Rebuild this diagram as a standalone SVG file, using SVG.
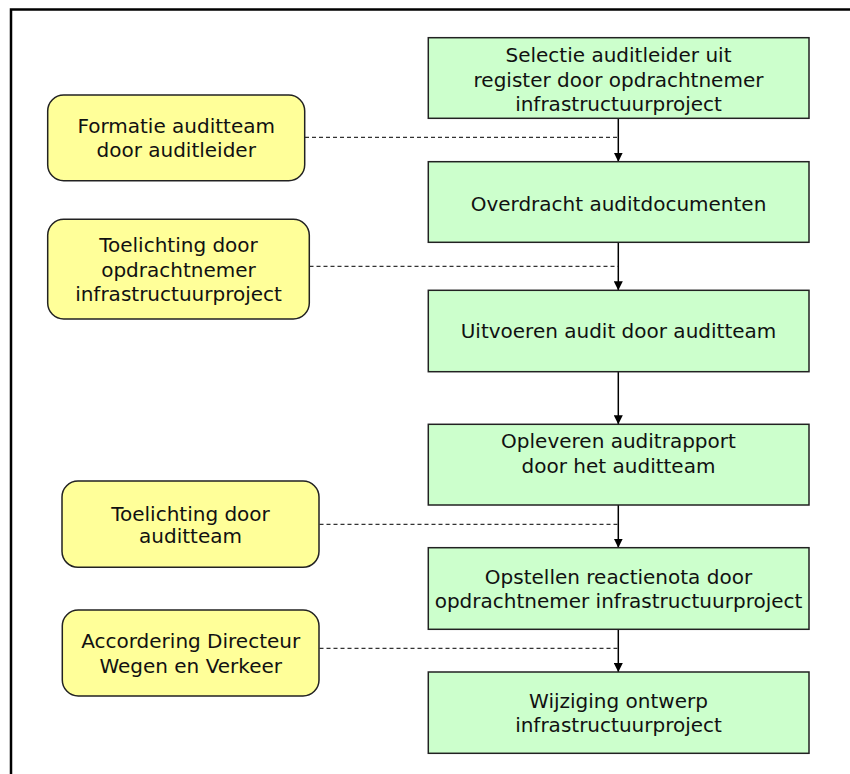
<svg xmlns="http://www.w3.org/2000/svg" width="850" height="774" viewBox="0 0 850 774">
<defs>
<style>
.g{fill:#CCFFCC;stroke:#222;stroke-width:1.5}
.y{fill:#FFFF99;stroke:#222;stroke-width:1.5}
text{font-family:"DejaVu Sans",Verdana,sans-serif;font-size:20px;fill:#111;text-anchor:middle}
.flow{stroke:#000;stroke-width:1.5;fill:none}
.dash{stroke:#333;stroke-width:1.2;stroke-dasharray:4 3;fill:none}
</style>
<marker id="ah" viewBox="0 0 10 10" refX="10" refY="5" markerWidth="9" markerHeight="9" markerUnits="userSpaceOnUse" orient="auto">
<path d="M0,0 L10,5 L0,10 Z" fill="#000"/>
</marker>
</defs>
<rect x="0" y="0" width="850" height="774" fill="#fff"/>
<path d="M11,774 L11,9.5 L850,9.5" fill="none" stroke="#000" stroke-width="2.5"/>

<g id="connectors">
<line class="flow" x1="618.3" y1="118.3" x2="618.3" y2="161.7" marker-end="url(#ah)"/>
<line class="flow" x1="618.3" y1="242.3" x2="618.3" y2="290.3" marker-end="url(#ah)"/>
<line class="flow" x1="618.3" y1="371.7" x2="618.3" y2="424.3" marker-end="url(#ah)"/>
<line class="flow" x1="618.3" y1="505" x2="618.3" y2="547.7" marker-end="url(#ah)"/>
<line class="flow" x1="618.3" y1="629.3" x2="618.3" y2="672" marker-end="url(#ah)"/>
<line class="dash" x1="305" y1="137.3" x2="618" y2="137.3"/>
<line class="dash" x1="309.5" y1="266.3" x2="618" y2="266.3"/>
<line class="dash" x1="319.5" y1="524.3" x2="618" y2="524.3"/>
<line class="dash" x1="319.5" y1="648.3" x2="618" y2="648.3"/>
</g>

<g id="n1">
<rect class="g" x="428.3" y="37.7" width="380.7" height="80.6"/>
<text x="618.5" y="62">Selectie auditleider uit</text>
<text x="618.5" y="86.5">register door opdrachtnemer</text>
<text x="618.5" y="111">infrastructuurproject</text>
</g>
<g id="n2">
<rect class="g" x="428.3" y="161.7" width="380.7" height="80.6"/>
<text x="618.5" y="211">Overdracht auditdocumenten</text>
</g>
<g id="n3">
<rect class="g" x="428.3" y="290.3" width="380.7" height="81.4"/>
<text x="618.5" y="338">Uitvoeren audit door auditteam</text>
</g>
<g id="n4">
<rect class="g" x="428.3" y="424.3" width="380.7" height="80.7"/>
<text x="618.5" y="448.3">Opleveren auditrapport</text>
<text x="618.5" y="472.7">door het auditteam</text>
</g>
<g id="n5">
<rect class="g" x="428.3" y="547.7" width="380.7" height="81.6"/>
<text x="618.5" y="584.3">Opstellen reactienota door</text>
<text x="618.5" y="608.3">opdrachtnemer infrastructuurproject</text>
</g>
<g id="n6">
<rect class="g" x="428.3" y="672" width="380.7" height="81.3"/>
<text x="618.5" y="708.3">Wijziging ontwerp</text>
<text x="618.5" y="731.7">infrastructuurproject</text>
</g>

<g id="y1">
<rect class="y" x="47.7" y="95" width="257" height="85.7" rx="16" ry="16"/>
<text x="176.2" y="133.3">Formatie auditteam</text>
<text x="176.2" y="156.7">door auditleider</text>
</g>
<g id="y2">
<rect class="y" x="47.7" y="219.3" width="261.6" height="99.7" rx="16" ry="16"/>
<text x="178.5" y="252.3">Toelichting door</text>
<text x="178.5" y="276.7">opdrachtnemer</text>
<text x="178.5" y="301">infrastructuurproject</text>
</g>
<g id="y3">
<rect class="y" x="62" y="481" width="257" height="86.3" rx="16" ry="16"/>
<text x="190.5" y="520.7">Toelichting door</text>
<text x="190.5" y="543.3">auditteam</text>
</g>
<g id="y4">
<rect class="y" x="62.3" y="610" width="256.7" height="86" rx="16" ry="16"/>
<text x="190.7" y="648">Accordering Directeur</text>
<text x="190.7" y="673.3">Wegen en Verkeer</text>
</g>
</svg>
